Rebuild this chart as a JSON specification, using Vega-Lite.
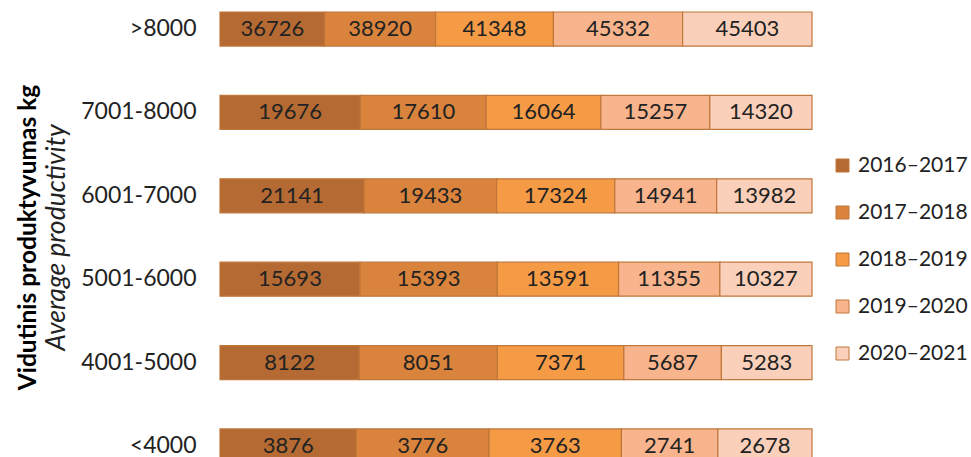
{
  "$schema": "https://vega.github.io/schema/vega-lite/v6.json",
  "width": 592,
  "height": 475,
  "autosize": {"type": "none"},
  "padding": {"left": 220, "top": 0, "right": 159, "bottom": 0},
  "background": "white",
  "title": {
    "text": "Vidutinis produktyvumas kg",
    "subtitle": "Average productivity",
    "orient": "left",
    "anchor": "middle",
    "font": "Lato",
    "fontSize": 24.5,
    "fontWeight": "bold",
    "color": "#000000",
    "subtitleFont": "Lato",
    "subtitleFontSize": 26.5,
    "subtitleFontStyle": "italic",
    "subtitleColor": "#222222",
    "subtitlePadding": 3,
    "offset": 9
  },
  "config": {"view": {"stroke": null}, "font": "Lato"},
  "data": {
    "values": [
      {"group": ">8000", "season": "2016–2017", "value": 36726},
      {"group": ">8000", "season": "2017–2018", "value": 38920},
      {"group": ">8000", "season": "2018–2019", "value": 41348},
      {"group": ">8000", "season": "2019–2020", "value": 45332},
      {"group": ">8000", "season": "2020–2021", "value": 45403},
      {"group": "7001-8000", "season": "2016–2017", "value": 19676},
      {"group": "7001-8000", "season": "2017–2018", "value": 17610},
      {"group": "7001-8000", "season": "2018–2019", "value": 16064},
      {"group": "7001-8000", "season": "2019–2020", "value": 15257},
      {"group": "7001-8000", "season": "2020–2021", "value": 14320},
      {"group": "6001-7000", "season": "2016–2017", "value": 21141},
      {"group": "6001-7000", "season": "2017–2018", "value": 19433},
      {"group": "6001-7000", "season": "2018–2019", "value": 17324},
      {"group": "6001-7000", "season": "2019–2020", "value": 14941},
      {"group": "6001-7000", "season": "2020–2021", "value": 13982},
      {"group": "5001-6000", "season": "2016–2017", "value": 15693},
      {"group": "5001-6000", "season": "2017–2018", "value": 15393},
      {"group": "5001-6000", "season": "2018–2019", "value": 13591},
      {"group": "5001-6000", "season": "2019–2020", "value": 11355},
      {"group": "5001-6000", "season": "2020–2021", "value": 10327},
      {"group": "4001-5000", "season": "2016–2017", "value": 8122},
      {"group": "4001-5000", "season": "2017–2018", "value": 8051},
      {"group": "4001-5000", "season": "2018–2019", "value": 7371},
      {"group": "4001-5000", "season": "2019–2020", "value": 5687},
      {"group": "4001-5000", "season": "2020–2021", "value": 5283},
      {"group": "<4000", "season": "2016–2017", "value": 3876},
      {"group": "<4000", "season": "2017–2018", "value": 3776},
      {"group": "<4000", "season": "2018–2019", "value": 3763},
      {"group": "<4000", "season": "2019–2020", "value": 2741},
      {"group": "<4000", "season": "2020–2021", "value": 2678}
    ]
  },
  "encoding": {
    "y": {
      "field": "group",
      "type": "nominal",
      "sort": [">8000", "7001-8000", "6001-7000", "5001-6000", "4001-5000", "<4000"],
      "scale": {"paddingInner": 0.592, "paddingOuter": 0.144},
      "axis": {
        "title": null,
        "domain": false,
        "ticks": false,
        "labelFont": "Lato",
        "labelFontSize": 23,
        "labelColor": "#222222",
        "labelPadding": 24
      }
    }
  },
  "layer": [
    {
      "mark": {"type": "bar", "stroke": "#C0773A", "strokeWidth": 1.2},
      "encoding": {
        "x": {"field": "value", "type": "quantitative", "stack": "normalize", "axis": null},
        "order": {"field": "season", "sort": "ascending"},
        "color": {
          "field": "season",
          "type": "nominal",
          "scale": {
            "domain": ["2016–2017", "2017–2018", "2018–2019", "2019–2020", "2020–2021"],
            "range": ["#B56A33", "#D9833C", "#F59B46", "#F8B48C", "#FBD0BA"]
          },
          "legend": {
            "title": null,
            "orient": "none",
            "legendX": 612,
            "legendY": 155,
            "padding": 0,
            "symbolType": "square",
            "symbolSize": 169,
            "symbolStrokeColor": "#C0773A",
            "symbolStrokeWidth": 1,
            "labelFont": "Lato",
            "labelFontSize": 21,
            "labelColor": "#222222",
            "labelOffset": 5,
            "rowPadding": 25
          }
        }
      }
    },
    {
      "mark": {"type": "text", "font": "Lato", "fontSize": 22, "color": "#222222"},
      "encoding": {
        "x": {"field": "value", "type": "quantitative", "stack": "normalize", "bandPosition": 0.5},
        "detail": {"field": "season", "type": "nominal"},
        "order": {"field": "season", "sort": "ascending"},
        "text": {"field": "value", "type": "quantitative", "format": "d"}
      }
    }
  ]
}
